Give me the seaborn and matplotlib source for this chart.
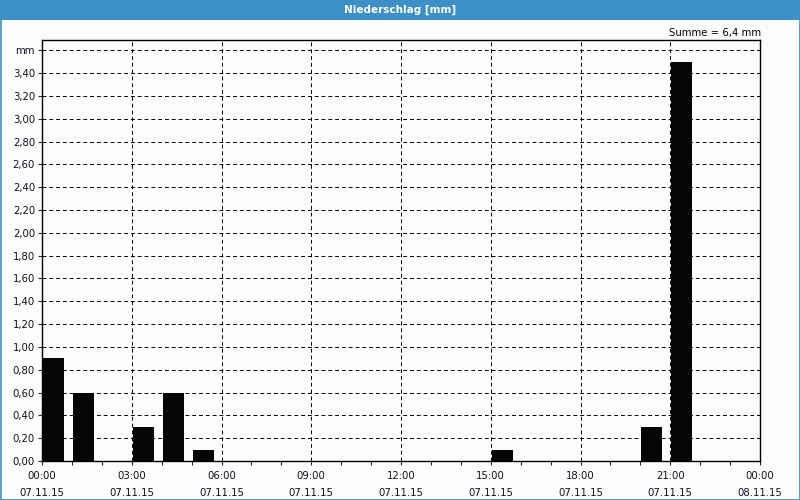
import matplotlib
matplotlib.use("Agg")
import matplotlib.pyplot as plt
from matplotlib.patches import Rectangle
import seaborn as sns
import pandas as pd
import numpy as np

# hourly precipitation 07.11.15, hours 00..23
hours = list(range(24))
values = [0.9, 0.6, 0.0, 0.3, 0.6, 0.1, 0.0, 0.0, 0.0, 0.0, 0.0, 0.0,
          0.0, 0.0, 0.0, 0.1, 0.0, 0.0, 0.0, 0.0, 0.3, 3.5, 0.0, 0.0]
xtick_times = ["00:00", "03:00", "06:00", "09:00", "12:00", "15:00", "18:00", "21:00", "00:00"]
xtick_dates = ["07.11.15"] * 8 + ["08.11.15"]
ytick_vals = [0.0, 0.2, 0.4, 0.6, 0.8, 1.0, 1.2, 1.4, 1.6, 1.8, 2.0, 2.2, 2.4,
              2.6, 2.8, 3.0, 3.2, 3.4]
title = "Niederschlag [mm]"
unit = "mm"
total_text = "Summe = 6,4 mm"

sns.set_style("white")
plt.rcParams["font.family"] = ["DejaVu Sans"]

fig = plt.figure(figsize=(8, 5), dpi=100)
fig.patch.set_facecolor("#fbfdfb")
ax = fig.add_axes([42 / 800, 39 / 500, 718 / 800, 421 / 500])
ax.set_facecolor("#fbfdfb")

df = pd.DataFrame({"pos": [h + 0.385 for h in hours], "val": values})
sns.barplot(data=df, x="pos", y="val", native_scale=True, width=0.7,
            color="#050505", saturation=1, edgecolor="none", linewidth=0, ax=ax)

ax.set_xlim(0, 24)
ax.set_ylim(0, 3.69)

grid_kw = dict(color="black", linestyle=(0, (4, 3)), linewidth=0.7, zorder=0)
for y in ytick_vals[1:] + [3.6]:
    ax.axhline(y, **grid_kw)
for x in range(3, 24, 3):
    ax.axvline(x, **grid_kw)
ax.set_axisbelow(True)

ax.set_xticks(list(range(0, 25, 3)))
ax.set_xticklabels([f"{t}\n{d}" for t, d in zip(xtick_times, xtick_dates)],
                   fontsize=7.3, linespacing=1.9, color="#101020")
ax.set_xticks(list(range(0, 25)), minor=True)
ax.tick_params(axis="x", which="both", direction="out", length=3, width=0.8,
               bottom=True, pad=4)

ax.set_yticks(ytick_vals + [3.6])
ax.set_yticklabels([f"{v:.2f}".replace(".", ",") for v in ytick_vals] + [unit],
                   fontsize=7.3, color="#101020")
ax.tick_params(axis="y", direction="out", length=3, width=0.8, left=True, pad=2)

ax.set_xlabel("")
ax.set_ylabel("")
for s in ax.spines.values():
    s.set_visible(True)
    s.set_color("black")
    s.set_linewidth(1.0)

# title bar
fig.patches.append(Rectangle((0, 480 / 500), 1, 20 / 500, transform=fig.transFigure,
                             facecolor="#3c90c6", edgecolor="none", zorder=-1))
fig.patches.append(Rectangle((0.5 / 800, 0.5 / 500), 799 / 800, 499 / 500,
                             transform=fig.transFigure, facecolor="none",
                             edgecolor="#3c90c6", linewidth=1.2))
fig.text(0.5, 490 / 500, title, ha="center", va="center", color="white",
         fontsize=7.5, fontweight="bold")
fig.text(761 / 800, 467 / 500, total_text, ha="right", va="center",
         fontsize=7.3, color="black")

fig.savefig("out.png", dpi=100, facecolor=fig.get_facecolor())
